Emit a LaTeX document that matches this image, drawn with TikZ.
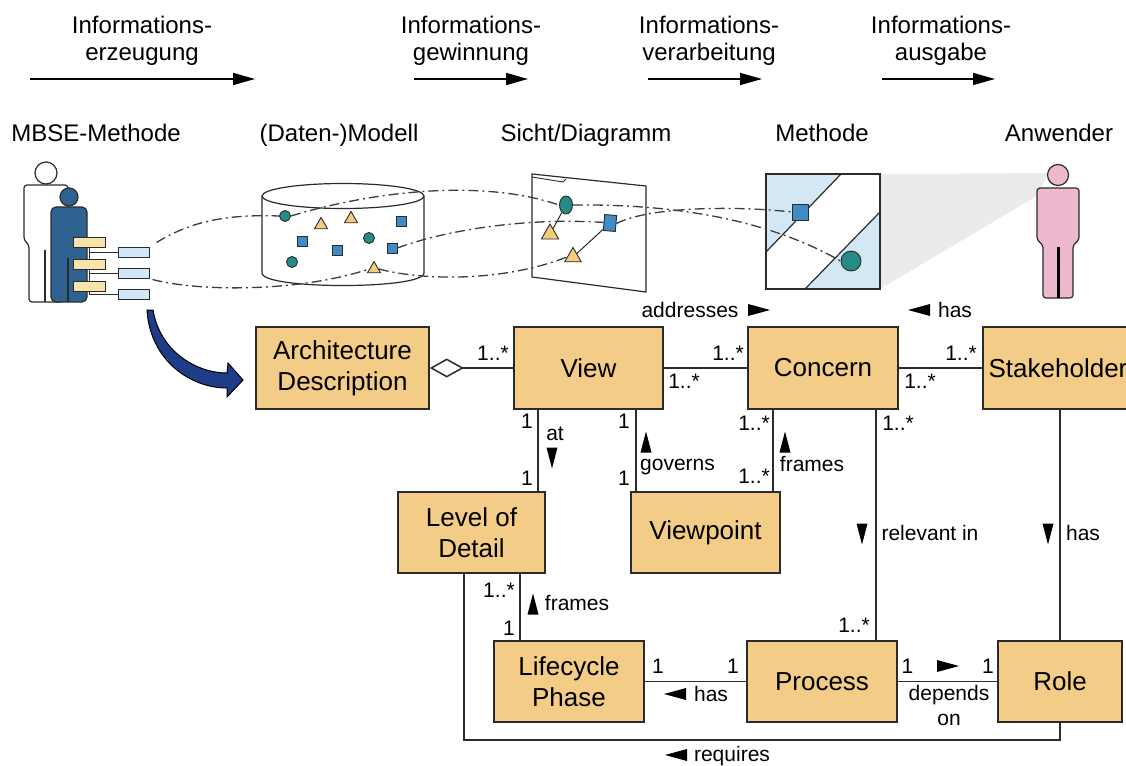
\documentclass[tikz,border=0pt]{standalone}
\usepackage{fontspec}
\setmainfont{Liberation Sans}
\usetikzlibrary{arrows.meta,calc,shapes.geometric}

\definecolor{boxfill}{HTML}{F3CD87}
\definecolor{edge}{HTML}{2B2B2B}
\definecolor{trace}{HTML}{3C3C3C}
\definecolor{personblue}{HTML}{2D6291}
\definecolor{paleblue}{HTML}{CFE7F6}
\definecolor{paleyellow}{HTML}{F8E3A9}
\definecolor{dotteal}{HTML}{268B86}
\definecolor{sqblue}{HTML}{3E8BC6}
\definecolor{triyellow}{HTML}{F3CD7C}
\definecolor{viewblue}{HTML}{D4E7F4}
\definecolor{skinpink}{HTML}{EDB9CF}
\definecolor{arrowblue}{HTML}{1F3C88}
\definecolor{beam}{HTML}{EBEBEB}

\tikzset{
  pics/triR/.style={code={\fill[black] (-11,-6) -- (11,0) -- (-11,6) -- cycle;}},
  pics/triL/.style={code={\fill[black] (11,-6) -- (-11,0) -- (11,6) -- cycle;}},
  pics/triD/.style={code={\fill[black] (-5.5,-10.5) -- (5.5,-10.5) -- (0,10.5) -- cycle;}},
  pics/triU/.style={code={\fill[black] (-5.5,10.5) -- (5.5,10.5) -- (0,-10.5) -- cycle;}},
}

\begin{document}
\begin{tikzpicture}[x=1pt,y=-1pt,
  cls/.style={draw=edge, fill=boxfill, line width=1.6pt, minimum height=82pt,
    inner sep=0pt, align=center, font=\fontsize{26}{31}\selectfont},
  conn/.style={draw=edge, line width=1.5pt},
  lab/.style={font=\fontsize{21}{24}\selectfont, inner sep=0pt, anchor=base},
  head/.style={font=\fontsize{24}{27}\selectfont, inner sep=0pt, align=center},
  flow/.style={line width=1.6pt, -{Triangle[length=22pt,width=12pt]}},
  trace/.style={draw=trace, line width=1.3pt, dash pattern=on 10pt off 4pt on 2pt off 4pt},
  obj/.style={draw=edge, line width=0.9pt, inner sep=0pt},
  dotc/.style={obj, circle, fill=dotteal, minimum size=11pt},
  dots/.style={obj, rectangle, fill=sqblue, minimum size=10pt},
  dott/.style={obj, regular polygon, regular polygon sides=3, fill=triyellow, minimum size=15pt},
  chip/.style={draw=edge, line width=1pt, inner sep=0pt, minimum width=31pt, minimum height=10pt},
  figline/.style={draw=edge, line width=1.2pt},
]
\useasboundingbox (0,0) rectangle (1126,765);
\clip (0,0) rectangle (1126,765);

% ---------- process steps ----------
\node[head] (h1) at (142,40.6) {Informations-\\erzeugung};
\node[head] (h2) at (471,40.6) {Informations-\\gewinnung};
\node[head] (h3) at (709,40.6) {Informations-\\verarbeitung};
\node[head] (h4) at (941,40.6) {Informations-\\ausgabe};
\coordinate (f1a) at (30,79);  \coordinate (f1b) at (255,79);
\coordinate (f2a) at (414,79); \coordinate (f2b) at (528,79);
\coordinate (f3a) at (648,79); \coordinate (f3b) at (762,79);
\coordinate (f4a) at (882,79); \coordinate (f4b) at (995,79);
\draw[flow] (f1a) -- (f1b);
\draw[flow] (f2a) -- (f2b);
\draw[flow] (f3a) -- (f3b);
\draw[flow] (f4a) -- (f4b);

\node[head, anchor=base] (t1) at (96,142) {MBSE-Methode};
\node[head, anchor=base] (t2) at (339,142) {(Daten-)Modell};
\node[head, anchor=base] (t3) at (586,142) {Sicht/Diagramm};
\node[head, anchor=base] (t4) at (822,142) {Methode};
\node[head, anchor=base] (t5) at (1059,142) {Anwender};

% ---------- MBSE method: two persons with outputs ----------
\draw[figline, fill=white, rounded corners=3pt] (29,302) -- (29,245) -- (24,240) -- (24,185)
  -- (68,185) -- (68,240) -- (63,245) -- (63,302) -- cycle;
\draw[figline] (45,250) -- (45,302);
\draw[figline, fill=white] (46,173) circle[radius=11pt];
\draw[figline, fill=personblue, rounded corners=5pt] (51,207) rectangle (87,302);
\draw[edge, line width=2.2pt] (68,258) -- (68,302);
\draw[figline, fill=personblue] (69,197) circle[radius=9pt];

\node[chip, fill=paleblue] (mb1) at (133.5,252) {};
\node[chip, fill=paleblue] (mb2) at (133.5,273) {};
\node[chip, fill=paleblue] (mb3) at (133.5,294.5) {};
\draw[edge, line width=1pt] (89,247) -- (89,294.5);
\draw[edge, line width=1pt] (89,252) -- (mb1.west);
\draw[edge, line width=1pt] (89,273) -- (mb2.west);
\draw[edge, line width=1pt] (89,294.5) -- (mb3.west);
\node[chip, fill=paleyellow, minimum width=32pt] (y1) at (89,242) {};
\node[chip, fill=paleyellow, minimum width=32pt] (y2) at (89,264) {};
\node[chip, fill=paleyellow, minimum width=32pt] (y3) at (89,286) {};

% bent arrow from the method into the meta model
\draw[draw=black, line width=1pt, fill=arrowblue]
  (147,310) .. controls (150,360) and (190,388) .. (227,388) -- (227,397) -- (243,380)
  -- (228,363) -- (227,373) .. controls (197,373) and (160,352) .. (153,310) -- cycle;

% ---------- data model cylinder ----------
\fill[white] (262,196) -- (262,273) .. controls (262,289.7) and (424,289.7) .. (424,273) -- (424,196) -- cycle;
\draw[figline] (262,196) -- (262,273) .. controls (262,289.7) and (424,289.7) .. (424,273) -- (424,196);
\draw[figline] (343,196) ellipse[x radius=81, y radius=12.5];

% ---------- view / diagram sheet ----------
\draw[figline, fill=white] (532,174) -- (646,186) -- (646,292) -- (532,277) -- cycle;
\draw[edge, line width=0.9pt] (532,177) -- (563,182) -- (566,179);

% ---------- method panel and projection ----------
\fill[beam] (880,174) -- (1048,173) -- (1037,196) -- (880,289) -- cycle;
\fill[white] (766,174) rectangle (880,289);
\fill[viewblue] (766,174) -- (841,174) -- (766,252) -- cycle;
\fill[viewblue] (805,289) -- (880,212) -- (880,289) -- cycle;
\draw[figline] (841,174) -- (766,252);
\draw[figline] (805,289) -- (880,212);
\draw[figline] (766,174) rectangle (880,289);

% ---------- user ----------
\draw[figline, fill=skinpink, rounded corners=3pt] (1043,298) -- (1043,245) -- (1037,240) -- (1037,188)
  -- (1079,188) -- (1079,240) -- (1073,245) -- (1073,298) -- cycle;
\draw[black, line width=3pt] (1058,247) -- (1058,298);
\draw[figline, fill=skinpink] (1058,175) circle[radius=10.5pt];

% ---------- model elements ----------
\node[dotc] (c1) at (285,216) {};
\node[dott] (c2) at (321,225) {};
\node[dott] (c3) at (351,219) {};
\node[dots] (c4) at (401,221) {};
\node[dots] (c5) at (302,241) {};
\node[dots] (c6) at (337,250) {};
\node[dotc] (c7) at (369,238) {};
\node[dots] (c8) at (392,248) {};
\node[dotc] (c9) at (292,262) {};
\node[dott] (c10) at (374,269) {};

\node[obj, ellipse, fill=dotteal, minimum width=13pt, minimum height=18pt] (e1) at (566,205) {};
\node[dott, minimum size=20pt] (p1) at (550,234) {};
\node[obj, rectangle, fill=sqblue, minimum width=12pt, minimum height=16pt, rotate=-5] (q1) at (610,223) {};
\node[dott, minimum size=19pt] (p2) at (573,257) {};
\draw[edge, line width=1pt] (e1) -- (p1);
\draw[edge, line width=1pt] (q1) -- (p2);

\node[obj, rectangle, fill=sqblue, minimum size=16pt] (m1) at (800,212) {};
\node[obj, circle, fill=dotteal, minimum size=20pt] (m2) at (851,261) {};

% ---------- traces through the chain ----------
\draw[trace] ($(mb1.north east)+(7,-4)$) .. controls (190,222) and (225,214) .. (c1.west);
\draw[trace] (c1.east) .. controls (370,192) and (480,178) .. (e1.west);
\draw[trace] (e1.east) .. controls (660,204) and (760,215) .. (m2.west);
\draw[trace] (c8.east) .. controls (440,232) and (520,217) .. (q1.west);
\draw[trace] (q1.east) .. controls (650,206) and (740,206) .. (m1.west);
\draw[trace] ($(mb2.south east)+(3,1)$) .. controls (200,292) and (300,292) .. (c10.west);
\draw[trace] (c10.east) .. controls (420,280) and (500,283) .. (p2.west);

% ---------- meta model ----------
\node[cls, minimum width=173pt] (ad) at (342.5,368) {Architecture\\Description};
\node[cls, minimum width=149pt] (view) at (588.5,368) {View};
\node[cls, minimum width=150pt] (concern) at (823,368) {Concern};
\node[cls, minimum width=150pt] (sh) at (1058,368) {Stakeholder};
\node[cls, minimum width=147pt, minimum height=81pt] (lod) at (471.5,532.5) {Level of\\Detail};
\node[cls, minimum width=149pt, minimum height=81pt] (vp) at (705.5,532.5) {Viewpoint};
\node[cls, minimum width=150pt, minimum height=81pt] (lc) at (569,681.5) {Lifecycle\\Phase};
\node[cls, minimum width=150pt, minimum height=81pt] (proc) at (822,681.5) {Process};
\node[cls, minimum width=124pt, minimum height=81pt] (role) at (1060,681.5) {Role};

\coordinate (xa) at (538,0);
\coordinate (xg) at (636,0);
\coordinate (xf) at (773,0);
\coordinate (xp) at (876,0);
\coordinate (xs) at (1060,0);
\coordinate (xl) at (520,0);
\coordinate (xr) at (464,0);
\coordinate (yr) at (0,740);

\draw[conn, -{Diamond[open, length=34pt, width=19pt]}] (view.west) -- (ad.east);
\draw[conn] (view.east) -- (concern.west);
\draw[conn] (concern.east) -- (sh.west);
\draw[conn] (view.south -| xa) -- (lod.north -| xa);
\draw[conn] (view.south -| xg) -- (vp.north -| xg);
\draw[conn] (concern.south -| xf) -- (vp.north -| xf);
\draw[conn] (concern.south -| xp) -- (proc.north -| xp);
\draw[conn] (sh.south -| xs) -- (role.north -| xs);
\draw[conn] (lod.south -| xl) -- (lc.north -| xl);
\draw[conn] (lc.east) -- (proc.west);
\draw[conn] (proc.east) -- (role.west);
\draw[conn] (lod.south -| xr) |- (yr -| role.south) -- (role.south);

% multiplicities
\node[lab] (m01) at (493,360) {1..*};
\node[lab] (m02) at (728,360) {1..*};
\node[lab] (m03) at (684,388) {1..*};
\node[lab] (m04) at (961,360) {1..*};
\node[lab] (m05) at (920,388) {1..*};
\node[lab] (m06) at (527,428) {1};
\node[lab] (m07) at (527,485) {1};
\node[lab] (m08) at (624,428) {1};
\node[lab] (m09) at (624,485) {1};
\node[lab] (m10) at (754,430) {1..*};
\node[lab] (m11) at (754,483) {1..*};
\node[lab] (m12) at (898,430) {1..*};
\node[lab] (m13) at (854,632) {1..*};
\node[lab] (m14) at (499,597) {1..*};
\node[lab] (m15) at (509,635) {1};
\node[lab] (m16) at (658,673) {1};
\node[lab] (m17) at (733,673) {1};
\node[lab] (m18) at (907.5,673) {1};
\node[lab] (m19) at (988,673) {1};

% association names with reading direction
\node[lab] (n01) at (690,317) {addresses};
\pic at (759,310) {triR};
\node[lab] (n02) at (955,317) {has};
\pic at (919,310) {triL};
\node[lab] (n03) at (555,440) {at};
\pic at (552,458) {triD};
\node[lab] (n04) at (677.5,470) {governs};
\pic at (646,442) {triU};
\node[lab] (n05) at (812,471) {frames};
\pic at (785,442) {triU};
\node[lab] (n06) at (930,540) {relevant in};
\pic at (862,534) {triD};
\node[lab] (n07) at (1083,540) {has};
\pic at (1048,534) {triD};
\node[lab] (n08) at (577,610) {frames};
\pic at (533,604) {triU};
\node[lab] (n09) at (711,701) {has};
\pic at (675,694) {triL};
\node[lab] (n10) at (949,700) {depends};
\node[lab] (n11) at (949,725) {on};
\pic at (948,666) {triR};
\node[lab] (n12) at (732,761) {requires};
\pic at (676,755) {triL};
\end{tikzpicture}
\end{document}
